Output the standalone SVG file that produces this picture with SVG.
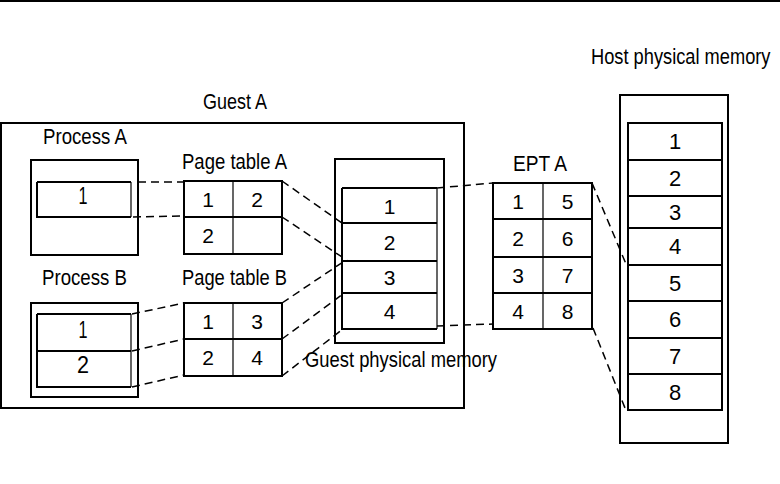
<svg xmlns="http://www.w3.org/2000/svg" width="780" height="484" viewBox="0 0 780 484">
<style>
.box{fill:none;stroke:#000;stroke-width:2}
.thin{fill:none;stroke:#000;stroke-width:1.2}
.dash{fill:none;stroke:#000;stroke-width:1.5;stroke-dasharray:8 5}
text{font-family:"Liberation Sans",Arial,sans-serif;fill:#000}
.lbl{font-size:22px}
.num{font-size:21px;text-anchor:middle}
.hnum{font-size:22px;text-anchor:middle}
.pnum{font-size:24px;text-anchor:middle}
</style>
<rect width="780" height="484" fill="#fff"/>
<line x1="0" y1="1" x2="780" y2="1" stroke="#000" stroke-width="2"/>

<g id="guestA">
<rect class="box" x="1" y="123" width="463" height="285"/>
<text class="lbl" x="203" y="109" textLength="64" lengthAdjust="spacingAndGlyphs">Guest A</text>
</g>

<g id="processA">
<rect class="box" x="31" y="160" width="107" height="95"/>
<path class="box" d="M37 182 H131 M37 182 V217 H131"/>
<line class="thin" x1="131" y1="182" x2="131" y2="217"/>
<text class="pnum" x="83" y="204" textLength="9" lengthAdjust="spacingAndGlyphs">1</text>
<text class="lbl" x="43" y="144" textLength="84" lengthAdjust="spacingAndGlyphs">Process A</text>
</g>

<g id="pageTableA">
<rect class="box" x="184" y="181" width="98" height="73"/>
<line class="box" x1="184" y1="217" x2="282" y2="217"/>
<line class="thin" x1="233" y1="181" x2="233" y2="254"/>
<text class="num" x="208" y="207">1</text>
<text class="num" x="257" y="207">2</text>
<text class="num" x="208" y="243">2</text>
<text class="lbl" x="182" y="169" textLength="105" lengthAdjust="spacingAndGlyphs">Page table A</text>
</g>

<g id="processB">
<rect class="box" x="31" y="303" width="107" height="94"/>
<path class="box" d="M37 314 H131 M37 314 V387 H131 M37 351 H131"/>
<line class="thin" x1="131" y1="314" x2="131" y2="387"/>
<text class="pnum" x="83" y="338" textLength="9" lengthAdjust="spacingAndGlyphs">1</text>
<text class="pnum" x="83" y="373" textLength="12" lengthAdjust="spacingAndGlyphs">2</text>
<text class="lbl" x="42" y="285" textLength="85" lengthAdjust="spacingAndGlyphs">Process B</text>
</g>

<g id="pageTableB">
<rect class="box" x="184" y="303" width="98" height="73"/>
<line class="box" x1="184" y1="339" x2="282" y2="339"/>
<line class="thin" x1="233" y1="303" x2="233" y2="376"/>
<text class="num" x="208" y="329">1</text>
<text class="num" x="257" y="329">3</text>
<text class="num" x="208" y="365">2</text>
<text class="num" x="257" y="365">4</text>
<text class="lbl" x="182" y="285" textLength="105" lengthAdjust="spacingAndGlyphs">Page table B</text>
</g>

<g id="guestPhysMem">
<rect class="box" x="335" y="159" width="109" height="184"/>
<path class="box" d="M342 188 H437 M342 188 V329 H437 M342 223 H437 M342 261 H437 M342 293 H437"/>
<line class="thin" x1="437" y1="188" x2="437" y2="329"/>
<text class="num" x="389.5" y="214">1</text>
<text class="num" x="389.5" y="250">2</text>
<text class="num" x="389.5" y="285">3</text>
<text class="num" x="389.5" y="319">4</text>
<text class="lbl" x="305" y="367" textLength="192" lengthAdjust="spacingAndGlyphs">Guest physical memory</text>
</g>

<g id="eptA">
<rect class="box" x="493" y="183" width="99" height="146"/>
<path class="box" d="M493 219 H592 M493 257 H592 M493 293 H592"/>
<line class="thin" x1="543" y1="183" x2="543" y2="329"/>
<text class="num" x="518" y="209">1</text>
<text class="num" x="567.5" y="209">5</text>
<text class="num" x="518" y="246">2</text>
<text class="num" x="567.5" y="246">6</text>
<text class="num" x="518" y="283">3</text>
<text class="num" x="567.5" y="283">7</text>
<text class="num" x="518" y="319">4</text>
<text class="num" x="567.5" y="319">8</text>
<text class="lbl" x="513" y="171" textLength="54" lengthAdjust="spacingAndGlyphs">EPT A</text>
</g>

<g id="hostPhysMem">
<rect class="box" x="620" y="95" width="108" height="348"/>
<rect class="box" x="628" y="123" width="94" height="287"/>
<path class="box" d="M628 160 H722 M628 196 H722 M628 228 H722 M628 265 H722 M628 301 H722 M628 338 H722 M628 374 H722"/>
<text class="hnum" x="675" y="149">1</text>
<text class="hnum" x="675" y="186">2</text>
<text class="hnum" x="675" y="220">3</text>
<text class="hnum" x="675" y="254">4</text>
<text class="hnum" x="675" y="291">5</text>
<text class="hnum" x="675" y="327">6</text>
<text class="hnum" x="675" y="364">7</text>
<text class="hnum" x="675" y="400">8</text>
<text class="lbl" transform="translate(591,64) scale(0.83,1)" x="0" y="0">Host physical memory</text>
</g>

<g id="connectors">
<line class="dash" x1="138" y1="182" x2="184" y2="182"/>
<line class="dash" x1="133" y1="217" x2="184" y2="216"/>
<line class="dash" x1="132" y1="314" x2="184" y2="303"/>
<line class="dash" x1="132" y1="351" x2="184" y2="339"/>
<line class="dash" x1="132" y1="387" x2="184" y2="375"/>
<line class="dash" x1="282" y1="181" x2="342" y2="223"/>
<line class="dash" x1="282" y1="217" x2="348" y2="261"/>
<line class="dash" x1="282" y1="303" x2="343" y2="262"/>
<line class="dash" x1="282" y1="339" x2="343" y2="294"/>
<line class="dash" x1="282" y1="376" x2="343" y2="329"/>
<line class="dash" x1="437" y1="188" x2="493" y2="183"/>
<line class="dash" x1="437" y1="326" x2="493" y2="324"/>
<line class="dash" x1="592" y1="183" x2="626" y2="264"/>
<line class="dash" x1="593" y1="328" x2="625" y2="408"/>
</g>
</svg>
